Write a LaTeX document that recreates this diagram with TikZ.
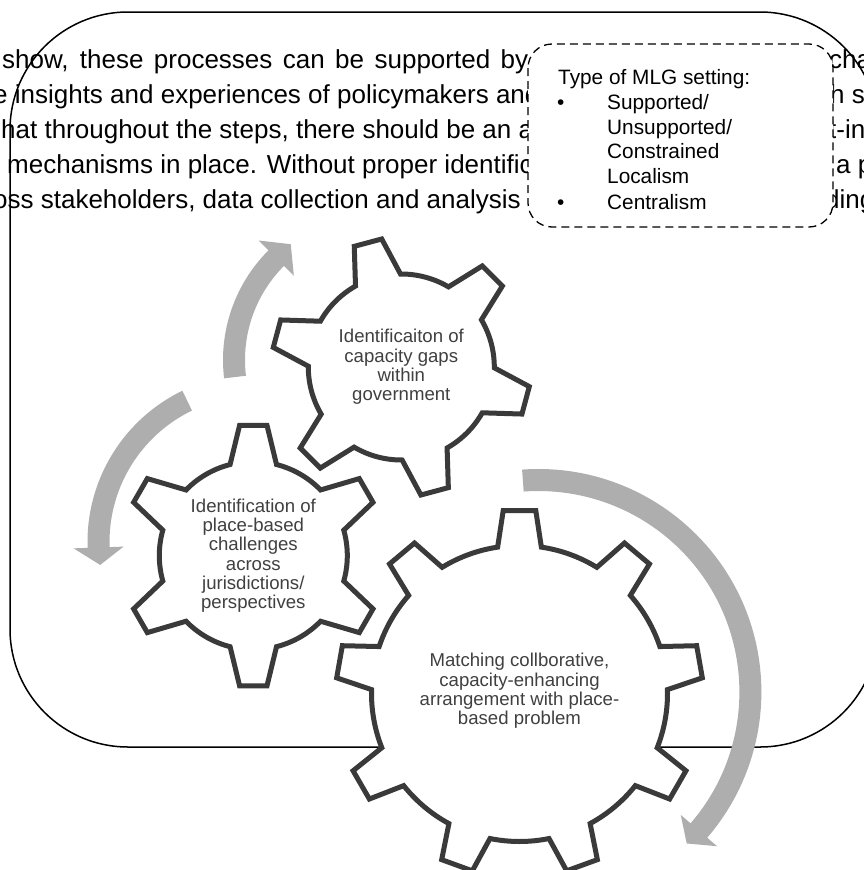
\documentclass[tikz,border=0pt]{standalone}
\usepackage{fontspec}
\setmainfont{Liberation Sans}
\definecolor{gearline}{RGB}{58,58,58}
\definecolor{arrowgray}{RGB}{174,174,174}
\definecolor{geartext}{RGB}{64,64,64}
\tikzset{
 bgtext/.style={anchor=base west, inner sep=0pt, font=\fontsize{26}{35}\selectfont},
 boxtext/.style={anchor=base west, inner sep=0pt, font=\fontsize{20.8}{25}\selectfont},
 geartxt/.style={inner sep=0pt, align=center, text=geartext, font=\fontsize{18.6}{19.3}\selectfont},
 gearshape/.style={draw=gearline, line width=5pt, fill=white},
 arrowfill/.style={fill=arrowgray},
 outerbox/.style={draw=black, line width=1.5pt, rounded corners=118pt},
 dashbox/.style={draw=black, fill=white, line width=1.3pt, dash pattern=on 8pt off 5pt, rounded corners=24pt},
}
\newcommand{\drawgear}[8]{%
 \pgfmathsetmacro{\gstep}{360/#5}%
 \pgfmathtruncatemacro{\glast}{#5-1}%
 \draw[gearshape, shift={(#1,-#2)}] ({#6-#8}:#4pt)
 \foreach \k in {0,...,\glast}{
   -- ({#6+\k*\gstep-#7}:#3pt) -- ({#6+\k*\gstep+#7}:#3pt) -- ({#6+\k*\gstep+#8}:#4pt)
   arc[start angle={#6+\k*\gstep+#8}, end angle={#6+(\k+1)*\gstep-#8}, radius=#4pt]
 } -- cycle;
}
\begin{document}
\begin{tikzpicture}[x=1pt,y=1pt]
\useasboundingbox (0,0) rectangle (864,-870);
\clip (0,0) rectangle (864,-870);

% background text fragments
\node[bgtext] (l1) at (2,-68.4) {\makebox[526pt][s]{show, these processes can be supported by}};
\node[bgtext] (l2) at (-7,-103.4) {e insights and experiences of policymakers and};
\node[bgtext] (l3) at (1,-138.4) {hat throughout the steps, there should be an a};
\node[bgtext] (l4) at (7,-173.4) {mechanisms in place. Without proper identific};
\node[bgtext] (l5) at (-7,-208.4) {oss stakeholders, data collection and analysis};
\node[bgtext] (r1) at (829,-68.4) {cha};
\node[bgtext] (r2) at (830,-103.4) {h s};
\node[bgtext] (r3) at (829,-138.4) {t-in};
\node[bgtext] (r4) at (836,-173.4) {a p};
\node[bgtext] (r5) at (825,-208.4) {ding};

% outer rounded frame
\draw[outerbox] (10,-12) rectangle (878,-747);

% dashed box
\draw[dashbox] (528,-44) rectangle (833,-227);
\node[boxtext] (mlgtitle) at (558,-84) {Type of MLG setting:};
\node[boxtext] (b1) at (557,-109) {•};
\node[boxtext] (i1) at (607,-109) {Supported/};
\node[boxtext] (i2) at (607,-134) {Unsupported/};
\node[boxtext] (i3) at (607,-158.5) {Constrained};
\node[boxtext] (i4) at (607,-183.5) {Localism};
\node[boxtext] (b2) at (557,-209) {•};
\node[boxtext] (i5) at (607,-209) {Centralism};

% curved arrows
\fill[arrowfill, shift={(378,-360)}] (186.8:155pt) arc[start angle=186.8,end angle=135,radius=155pt]
  -- (135:169pt) -- (127:145pt) -- (135:119pt) -- (135:133pt)
  arc[start angle=135,end angle=186.8,radius=133pt] -- cycle;
\fill[arrowfill, shift={(255.5,-542)}] (115.8:168pt) arc[start angle=115.8,end angle=182,radius=168pt]
  -- (182:182pt) -- (188.4:157pt) -- (182:132pt) -- (182:146pt)
  arc[start angle=182,end angle=115.8,radius=146pt] -- cycle;
\fill[arrowfill, shift={(538.4,-692)}] (94.2:223pt) arc[start angle=94.2,end angle=-40.8,radius=223pt]
  -- (-40.8:236pt) -- (-45.6:212pt) -- (-40.8:188pt) -- (-40.8:201pt)
  arc[start angle=-40.8,end angle=94.2,radius=201pt] -- cycle;

% gears
\drawgear{401.3}{367}{129.5}{93}{6}{45}{6.3}{14.5}
\drawgear{253.3}{555.6}{131}{94}{6}{90}{6}{14.3}
\drawgear{519.5}{693.5}{183.5}{148}{9}{90}{5.1}{8.5}

\node[geartxt] (g1txt) at (401.3,-367) {Identificaiton of\\capacity gaps\\within\\government};
\node[geartxt] (g2txt) at (253.3,-555.6) {Identification of\\place-based\\challenges\\across\\jurisdictions/\\perspectives};
\node[geartxt] (g3txt) at (519.5,-691) {Matching collborative,\\capacity-enhancing\\arrangement with place-\\based problem};
\end{tikzpicture}
\end{document}
